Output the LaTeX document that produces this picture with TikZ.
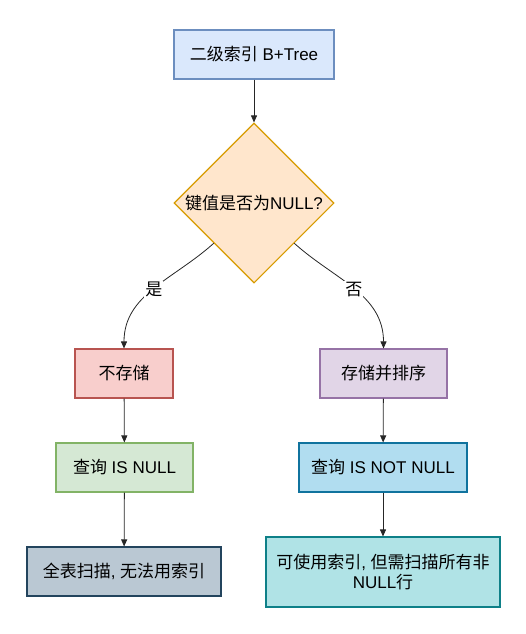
\documentclass[tikz,border=0pt]{standalone}
\usepackage{fontspec}
\setmainfont{Liberation Sans}
\newfontfamily\cjk{Noto Sans CJK SC}
\usetikzlibrary{shapes.geometric,arrows.meta}

\definecolor{topfill}{HTML}{DAE8FC}\definecolor{topline}{HTML}{6C8EBF}
\definecolor{askfill}{HTML}{FFE6CC}\definecolor{askline}{HTML}{D79B00}
\definecolor{nofill}{HTML}{F8CECC}\definecolor{noline}{HTML}{B85450}
\definecolor{sortfill}{HTML}{E1D5E7}\definecolor{sortline}{HTML}{9673A6}
\definecolor{nullfill}{HTML}{D5E8D4}\definecolor{nullline}{HTML}{82B366}
\definecolor{notfill}{HTML}{B1DDF0}\definecolor{notline}{HTML}{10739E}
\definecolor{fullfill}{HTML}{BAC8D3}\definecolor{fullline}{HTML}{23445D}
\definecolor{usefill}{HTML}{B0E3E6}\definecolor{useline}{HTML}{0E8088}

\tikzset{
  box/.style={rectangle, draw, line width=1.1pt, inner sep=0pt, minimum height=49pt,
    align=center, font=\fontsize{17}{20}\selectfont},
  lbl/.style={font=\fontsize{17}{20}\selectfont},
  flow/.style={draw=black!85, line width=0.8pt, -{Triangle[length=7pt,width=6pt]}}
}

\begin{document}
\begin{tikzpicture}[x=1pt, y=-1pt]
        \useasboundingbox (0,0) rectangle (526,634);
        % top box and the question
        \node[box, fill=topfill, draw=topline, minimum width=160pt] (tree) at (254,54.5) {{\cjk 二级索引} B+Tree};
        \node[diamond, draw=askline, fill=askfill, line width=1.1pt, inner sep=0pt,
              minimum width=160pt, minimum height=160pt] (ask) at (254,203) {};
        \node[lbl] (asktext) at (ask) {{\cjk 键值是否为}NULL?};
        % left branch
        \node[box, fill=nofill, draw=noline, minimum width=98pt] (nostore) at (124,373.5) {\cjk 不存储};
        \node[box, fill=nullfill, draw=nullline, minimum width=137pt] (isnull) at (124.5,467.5) {{\cjk 查询} IS NULL};
        \node[box, fill=fullfill, draw=fullline, minimum width=194pt] (fullscan) at (124,571.5) {{\cjk 全表扫描}, {\cjk 无法用索引}};
        % right branch
        \node[box, fill=sortfill, draw=sortline, minimum width=127pt] (sorted) at (383.5,373.5) {\cjk 存储并排序};
        \node[box, fill=notfill, draw=notline, minimum width=168pt] (notnull) at (383,467.5) {{\cjk 查询} IS NOT NULL};
        \node[box, fill=usefill, draw=useline, minimum width=234pt, minimum height=70pt] (useidx) at (383,572)
              {{\cjk 可使用索引}, {\cjk 但需扫描所有非}\\NULL{\cjk 行}};
        % connectors
        \draw[flow] (tree) -- (ask);
        \draw[flow] (ask.south west) to[out=222, in=90]
              node[lbl, fill=white, inner sep=1pt, pos=0.5] (yes) {\cjk 是} (nostore.north);
        \draw[flow] (ask.south east) to[out=-42, in=90]
              node[lbl, fill=white, inner sep=1pt, pos=0.5] (no) {\cjk 否} (sorted.north);
        \draw[flow] (nostore) -- (isnull);
        \draw[flow] (isnull) -- (fullscan);
        \draw[flow] (sorted) -- (notnull);
        \draw[flow] (notnull) -- (useidx);
\end{tikzpicture}
\end{document}
